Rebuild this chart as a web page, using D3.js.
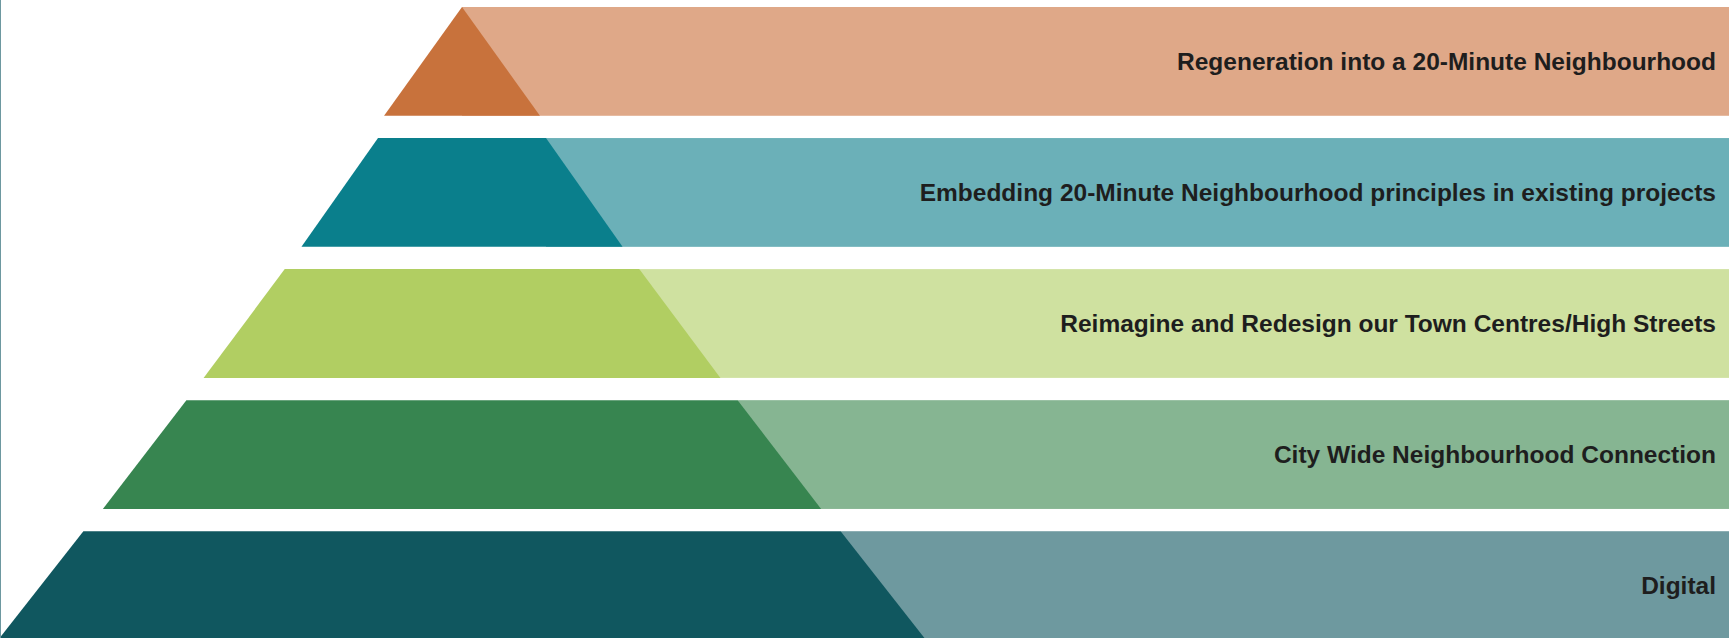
<!DOCTYPE html>
<html>
<head>
<meta charset="utf-8">
<script src="https://cdnjs.cloudflare.com/ajax/libs/d3/7.8.5/d3.min.js"></script>
<style>
  html, body { margin: 0; padding: 0; background: #ffffff; overflow: hidden; }
</style>
</head>
<body>
<div id="my_dataviz"></div>
<script>
// Pyramid levels, top to bottom
var levels = [
  "Regeneration into a 20-Minute Neighbourhood",
  "Embedding 20-Minute Neighbourhood principles in existing projects",
  "Reimagine and Redesign our Town Centres/High Streets",
  "City Wide Neighbourhood Connection",
  "Digital"
];

// Width of each pyramid slice at its top and at its base (% of the full pyramid base)
var topWidth = [0, 18.1, 38.2, 59.4, 81.6];
var baseWidth = [16.8, 34.6, 55.7, 77.4, 100];

var darkColors = ["#c8723c", "#0a7f8c", "#b1ce62", "#378550", "#10575f"];
var lightColors = ["#dfa888", "#6bb0b8", "#cfe1a0", "#86b592", "#6e999f"];

// Set the dimensions of the chart
var width = 1729;
var height = 638;
var centerX = 462;
var baseHalf = 464;

var svg = d3.select("#my_dataviz")
  .append("svg")
  .attr("width", width)
  .attr("height", height);

// Vertical position of each level
var y = d3.scaleBand()
  .domain(levels)
  .range([7, 640])
  .paddingInner(0.17);

// Horizontal scale: -50..50 % of the base around the pyramid centre
var x = d3.scaleLinear()
  .domain([-50, 50])
  .range([centerX - baseHalf, centerX + baseHalf]);

var dark = d3.scaleOrdinal().domain(levels).range(darkColors);
var light = d3.scaleOrdinal().domain(levels).range(lightColors);

var rows = levels.map(function(d, i) {
  return { label: d, top: topWidth[i], base: baseWidth[i] };
});

var row = svg.selectAll(".level")
  .data(rows)
  .enter()
  .append("g")
  .attr("class", "level");

// Light band running to the right edge
row.append("rect")
  .attr("x", function(d) { return x(d.top / 2); })
  .attr("y", function(d) { return y(d.label); })
  .attr("width", function(d) { return width - x(d.top / 2); })
  .attr("height", y.bandwidth())
  .attr("fill", function(d) { return light(d.label); });

// Dark pyramid slice (trapezoid, triangle on top)
row.append("path")
  .attr("d", function(d) {
    var y0 = y(d.label);
    var y1 = y0 + y.bandwidth();
    return d3.line()([
      [x(-d.top / 2), y0],
      [x(d.top / 2), y0],
      [x(d.base / 2), y1],
      [x(-d.base / 2), y1]
    ]) + "Z";
  })
  .attr("fill", function(d) { return dark(d.label); });

// Labels, right aligned in the band
row.append("text")
  .attr("x", width - 13)
  .attr("y", function(d) { return y(d.label) + y.bandwidth() / 2; })
  .attr("dy", "0.36em")
  .attr("text-anchor", "end")
  .style("font-family", "'Liberation Sans', Arial, sans-serif")
  .style("font-weight", "bold")
  .style("font-size", "24.5px")
  .style("fill", "#1e1e1e")
  .text(function(d) { return d.label; });

// Thin border on the left edge
svg.append("line")
  .attr("x1", 0.5)
  .attr("x2", 0.5)
  .attr("y1", 0)
  .attr("y2", height)
  .attr("stroke", "#6d98a0")
  .attr("stroke-width", 1);
</script>
</body>
</html>
